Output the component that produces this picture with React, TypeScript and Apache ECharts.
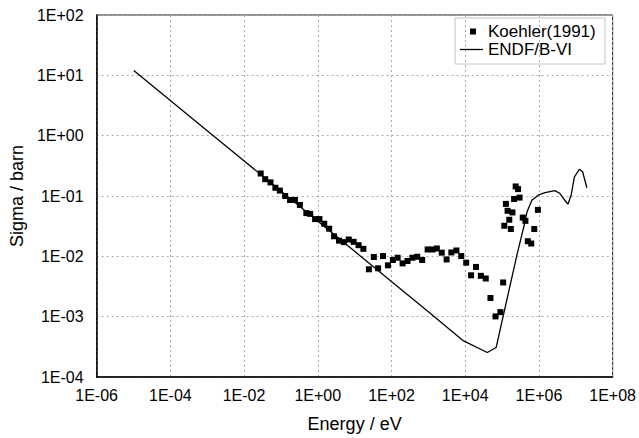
import React, { useEffect, useRef } from "react";
import * as echarts from "echarts";

// Koehler (1991) measured points: energy (eV) and cross section (barn)
const koehlerEnergy = [
  0.0283, 0.0375, 0.0521, 0.0708, 0.0938, 0.1305, 0.177, 0.24, 0.327, 0.489,
  0.624, 0.847, 1.11, 1.5, 2.04, 2.77, 3.77, 5.11, 6.93, 9.42,
  12.8, 17.3, 24.4, 33.2, 43.4, 58.9, 80.0, 109, 147, 200,
  272, 369, 500, 679, 957, 1300, 1700, 2310, 3130, 4200,
  5770, 7830, 10640, 14430, 19600, 26600, 36100, 48400, 66500, 90300,
  107000, 115000, 127000, 141000, 157000, 173000, 191000, 212000, 234000, 272000,
  299000, 364000, 430000, 500000, 619000, 748000, 938000,
];
const koehlerSigma = [
  0.236, 0.19, 0.168, 0.137, 0.123, 0.1, 0.0859, 0.0859, 0.0711, 0.052,
  0.0506, 0.0414, 0.0414, 0.0347, 0.0287, 0.0215, 0.0182, 0.0172, 0.019, 0.0174,
  0.0153, 0.0133, 0.0061, 0.00975, 0.00633, 0.0101, 0.00709, 0.00869, 0.00948, 0.00764,
  0.00837, 0.00948, 0.00984, 0.00869, 0.013, 0.013, 0.0135, 0.0115, 0.00889, 0.0116,
  0.0125, 0.0101, 0.00785, 0.00485, 0.00667, 0.00475, 0.00429, 0.00204, 0.00101, 0.00119,
  0.00369, 0.0321, 0.074, 0.0568, 0.0404, 0.0284, 0.0534, 0.0893, 0.144, 0.13,
  0.0942, 0.0439, 0.0388, 0.0178, 0.0163, 0.0284, 0.0589,
];

// ENDF/B-VI evaluated curve
const endfEnergy = [
  1.02e-5, 1e-3, 0.1, 10, 1000, 9020, 39800, 69000, 249000, 392000,
  479000, 650000, 979000, 1.47e6, 2.7e6, 3.67e6, 4.98e6, 6.12e6, 7.5e6, 9.18e6,
  1.25e7, 1.53e7, 2.0e7,
];
const endfSigma = [
  12.0, 1.21, 0.121, 0.0121, 0.00121, 3.96e-4, 2.55e-4, 3.08e-4, 0.0101, 0.0315,
  0.0555, 0.0859, 0.104, 0.114, 0.123, 0.111, 0.0859, 0.0731, 0.104, 0.208,
  0.277, 0.252, 0.137,
];

const xTickLabels = ["1E-06", "1E-04", "1E-02", "1E+00", "1E+02", "1E+04", "1E+06", "1E+08"];
const yTickLabels = ["1E-04", "1E-03", "1E-02", "1E-01", "1E+00", "1E+01", "1E+02"];

const FONT = "'Liberation Sans', Arial, sans-serif";

function fmtExp(v: number): string {
  const e = Math.round(Math.log10(v));
  return "1E" + (e < 0 ? "-" : "+") + String(Math.abs(e)).padStart(2, "0");
}

export default function App() {
  const ref = useRef<HTMLDivElement>(null);
  useEffect(() => {
    if (!ref.current) return;
    const chart = echarts.init(ref.current, undefined, { renderer: "svg" });
    const splitStyle = { show: true, lineStyle: { color: "#a8a8a8", type: [2, 3] as any, width: 1 } };
    chart.setOption({
      animation: false,
      backgroundColor: "#ffffff",
      textStyle: { fontFamily: FONT },
      grid: {
        left: 85,
        right: 26,
        top: 15,
        bottom: 58,
        show: true,
        borderColor: "#222",
        borderWidth: 1,
        backgroundColor: "transparent",
      },
      legend: [
        {
          data: ["Koehler(1991)"],
          left: 470,
          top: 23,
          padding: 0,
          icon: "rect",
          itemWidth: 6,
          itemHeight: 6,
          itemStyle: { opacity: 1 },
          textStyle: { fontFamily: FONT, fontSize: 17, color: "#000", padding: [0, 0, 0, 7] },
        },
        {
          data: ["ENDF/B-VI"],
          left: 460,
          top: 41,
          padding: 0,
          icon: "rect",
          itemWidth: 23,
          itemHeight: 1.3,
          textStyle: { fontFamily: FONT, fontSize: 17, color: "#000" },
        },
      ],
      graphic: [
        {
          type: "rect",
          shape: { x: 455, y: 18, width: 150, height: 46 },
          style: { fill: "transparent", stroke: "#c4c4c4", lineWidth: 1 },
          silent: true,
        },
      ],
      xAxis: {
        type: "log",
        logBase: 10,
        min: 1e-6,
        max: 1e8,
        interval: 2,
        name: "Energy / eV",
        nameLocation: "middle",
        nameGap: 38,
        nameTextStyle: { fontFamily: FONT, fontSize: 18, color: "#000" },
        axisLine: { show: true, lineStyle: { color: "#000", width: 1.5 } },
        axisTick: { show: false },
        axisLabel: {
          fontFamily: FONT,
          fontSize: 16,
          color: "#000",
          margin: 10,
          formatter: (v: number) => {
            const s = fmtExp(v);
            return xTickLabels.includes(s) ? s : "";
          },
        },
        splitLine: splitStyle,
      },
      yAxis: {
        type: "log",
        logBase: 10,
        min: 1e-4,
        max: 1e2,
        interval: 1,
        name: "Sigma / barn",
        nameLocation: "middle",
        nameGap: 65,
        nameTextStyle: { fontFamily: FONT, fontSize: 18, color: "#000" },
        axisLine: { show: true, lineStyle: { color: "#000", width: 1.5 } },
        axisTick: { show: false },
        axisLabel: {
          fontFamily: FONT,
          fontSize: 16,
          color: "#000",
          margin: 13,
          formatter: (v: number) => {
            const s = fmtExp(v);
            return yTickLabels.includes(s) ? s : "";
          },
        },
        splitLine: splitStyle,
      },
      series: [
        {
          name: "Koehler(1991)",
          type: "scatter",
          symbol: "rect",
          symbolSize: 6,
          itemStyle: { color: "#000", opacity: 1 },
          data: koehlerEnergy.map((e, i) => [e, koehlerSigma[i]]),
          z: 3,
        },
        {
          name: "ENDF/B-VI",
          type: "line",
          symbol: "none",
          showSymbol: false,
          lineStyle: { color: "#000", width: 1.3 },
          itemStyle: { color: "#000" },
          data: endfEnergy.map((e, i) => [e, endfSigma[i]]),
          z: 2,
        },
      ],
    });
    return () => chart.dispose();
  }, []);
  return (
    <div
      ref={ref}
      style={{ position: "fixed", left: 0, top: 0, width: 639, height: 438, background: "#fff" }}
    />
  );
}
